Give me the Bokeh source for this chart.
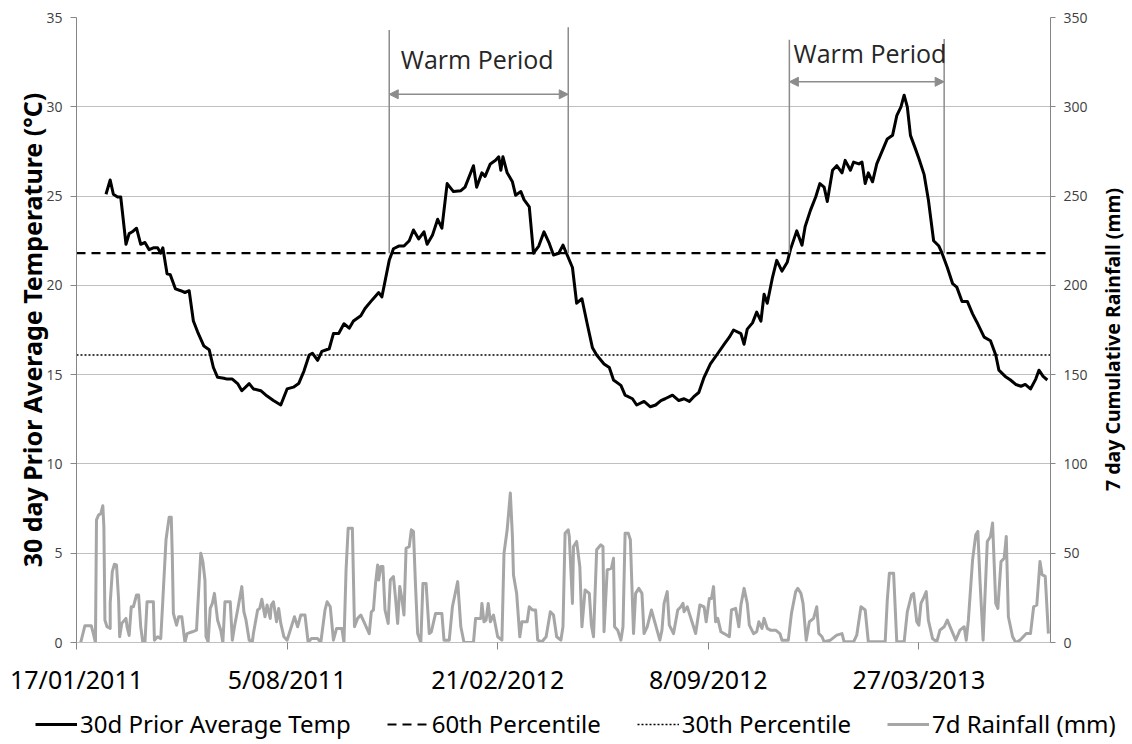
import math
from bokeh.plotting import figure
from bokeh.layouts import row, column
from bokeh.models import (Range1d, LinearAxis, FixedTicker, Arrow, NormalHead,
                          Legend, LegendItem, ColumnDataSource)
from bokeh.core.properties import value
from bokeh.embed import file_html
from bokeh.resources import INLINE

# ---------------- data ----------------
# x values are days since 17/01/2011
tick_days = [0, 200, 400, 600, 800]
tick_labels = ["17/01/2011", "5/08/2011", "21/02/2012", "8/09/2012", "27/03/2013"]
temp_ticks = [0, 5, 10, 15, 20, 25, 30, 35]
rain_ticks = [0, 50, 100, 150, 200, 250, 300, 350]
day_span = [0, 925]

temp_day = [
    28, 32, 35, 39, 42, 47, 50, 53, 57, 61,
    65, 69, 73, 77, 80, 82, 86, 89, 94, 99,
    103, 107, 111, 115, 121, 126, 130, 134, 140, 143,
    148, 153, 157, 164, 168, 175, 181, 187, 194, 200,
    206, 211, 216, 221, 224, 229, 233, 240, 244, 249,
    254, 259, 263, 270, 274, 281, 287, 290, 297, 301,
    306, 311, 316, 320, 325, 330, 333, 338, 343, 347,
    352, 358, 365, 369, 377, 380, 385, 388, 393, 398,
    401, 403, 405, 409, 414, 417, 422, 425, 430, 434,
    439, 444, 449, 453, 458, 462, 466, 471, 475, 480,
    485, 490, 494, 501, 506, 510, 517, 521, 528, 532,
    539, 545, 550, 555, 559, 566, 572, 577, 582, 586,
    591, 596, 602, 608, 615, 620, 624, 631, 634, 637,
    642, 646, 650, 653, 656, 661, 665, 670, 675, 678,
    684, 689, 692, 697, 702, 706, 710, 713, 718, 722,
    727, 730, 735, 738, 743, 746, 749, 752, 756, 760,
    765, 770, 775, 779, 783, 786, 789, 792, 797, 800,
    805, 809, 814, 819, 822, 827, 832, 836, 841, 846,
    851, 855, 862, 868, 873, 876, 882, 887, 892, 897,
    901, 906, 911, 914, 918, 922,
]
temp_c = [
    25.1, 25.9, 25.1, 24.95, 24.95, 22.3, 22.9, 23.0, 23.2, 22.3,
    22.4, 22.0, 22.1, 22.1, 21.8, 22.1, 20.65, 20.6, 19.8, 19.7,
    19.6, 19.7, 18.0, 17.4, 16.6, 16.4, 15.4, 14.85, 14.8, 14.75,
    14.75, 14.5, 14.1, 14.5, 14.2, 14.1, 13.8, 13.55, 13.3, 14.2,
    14.3, 14.5, 15.2, 16.1, 16.2, 15.8, 16.3, 16.45, 17.3, 17.3,
    17.85, 17.6, 18.0, 18.3, 18.7, 19.2, 19.6, 19.35, 21.4, 22.05,
    22.2, 22.2, 22.5, 23.1, 22.6, 23.0, 22.3, 22.8, 23.7, 23.2,
    25.7, 25.25, 25.3, 25.5, 26.7, 25.5, 26.3, 26.1, 26.8, 27.0,
    27.2, 26.45, 27.2, 26.3, 25.8, 25.05, 25.25, 24.8, 24.4, 21.8,
    22.2, 23.0, 22.35, 21.7, 21.8, 22.25, 21.7, 21.0, 19.0, 19.25,
    17.85, 16.5, 16.1, 15.6, 15.4, 14.7, 14.4, 13.85, 13.65, 13.3,
    13.5, 13.2, 13.3, 13.55, 13.65, 13.85, 13.55, 13.65, 13.5, 13.75,
    14.0, 14.85, 15.6, 16.1, 16.7, 17.1, 17.5, 17.3, 16.7, 17.55,
    17.9, 18.5, 18.0, 19.5, 19.0, 20.45, 21.4, 20.8, 21.3, 22.0,
    23.05, 22.25, 23.3, 24.2, 24.95, 25.7, 25.5, 24.7, 26.45, 26.7,
    26.3, 27.0, 26.45, 26.9, 26.8, 26.9, 25.7, 26.3, 25.8, 26.8,
    27.5, 28.2, 28.4, 29.5, 30.0, 30.65, 30.0, 28.4, 27.6, 27.1,
    26.2, 24.8, 22.5, 22.2, 21.8, 21.0, 20.1, 19.9, 19.1, 19.1,
    18.4, 17.95, 17.1, 16.9, 16.1, 15.25, 14.9, 14.7, 14.45, 14.35,
    14.45, 14.2, 14.75, 15.25, 14.9, 14.7,
]

rain_day = [
    4, 8, 10, 14, 16, 18,
    19, 21, 23, 25, 26, 27, 29, 32, 32, 34,
    36, 38, 40, 41, 43, 47, 48, 50, 52, 54,
    57, 59, 61, 63, 65, 67, 73, 74, 77, 80,
    82, 85, 88, 90, 91, 92, 95, 97, 100, 103,
    105, 110, 114, 115, 118, 120, 122, 123, 125, 127,
    129, 131, 134, 137, 139, 141, 146, 148, 150, 153,
    157, 159, 161, 164, 167, 168, 172, 174, 176, 179,
    181, 184, 185, 187, 190, 192, 194, 197, 200, 203,
    207, 210, 213, 217, 220, 223, 229, 232, 236, 238,
    241, 244, 247, 252, 254, 256, 258, 262, 264, 267,
    270, 273, 278, 280, 282, 284, 286, 287, 289, 291,
    293, 296, 298, 301, 303, 305, 307, 309, 311, 313,
    316, 318, 320, 322, 324, 327, 329, 332, 335, 337,
    341, 347, 349, 354, 357, 362, 365, 368, 377, 379,
    384, 385, 387, 389, 391, 393, 396, 400, 404, 406,
    409, 412, 414, 415, 418, 421, 423, 428, 430, 433,
    436, 438, 442, 446, 450, 453, 456, 460,
    462, 464, 467, 468, 471, 472, 475, 478, 480, 483,
    485, 487, 489, 491, 494, 498, 500, 501, 504, 508,
    510, 511, 514, 517, 519, 521, 524, 526, 529, 531,
    534, 537, 539, 542, 546, 550, 554, 556, 558, 561,
    563, 567, 571, 574, 576, 577, 580, 582, 586, 588,
    592, 596, 598, 601, 603, 605, 607, 609, 612, 615,
    620, 622, 626, 629, 631, 634, 637, 639, 643, 646,
    648, 651, 653, 656, 659, 664, 668, 670, 676, 679,
    683, 685, 688, 690, 693, 696, 700, 703, 705, 708,
    710, 716, 722, 727, 729, 738, 741, 745, 749, 752,
    757, 768, 770, 772, 776, 779, 786, 789, 793, 795,
    798, 800, 802, 805, 807, 809, 813, 817, 820, 824,
    827, 831, 835, 839, 843, 845, 847, 851, 854, 856,
    858, 861, 865, 868, 870, 873, 875, 878, 881, 883,
    885, 889, 892, 896, 902, 906, 909, 912, 915, 917, 920, 923,
]
rain_mm = [
    0, 9.4, 9.4, 9.4, 5, 0,
    68.7, 71.5, 72, 76.6, 65, 12.5, 8.8, 7.9, 22, 39.7,
    43.8, 43.4, 23.8, 3.2, 10.7, 13.5, 8.8, 4, 20, 20,
    26.6, 26.6, 8.8, 0, 0, 22.8, 22.8, 1.3, 3.2, 2.2,
    23.8, 57.5, 70.2, 70.2, 48.1, 16.3, 9.7, 14.4, 14.4, 0,
    5, 6, 6.9, 18.2, 50, 45.3, 35, 3.2, 0.4, 19.1,
    21.9, 27.5, 12.5, 6.9, 0, 22.8, 22.8, 1.3, 8.8, 18.2,
    31.3, 17.2, 12.5, 1.3, 0.4, 5, 18.2, 19.1, 24.2, 14.4,
    21, 13.5, 21, 22.8, 11.6, 19.1, 10.7, 3.2, 1.3, 6.9,
    14.4, 8.8, 15.4, 15.4, 0, 2.2, 2.2, 0, 18.2, 22.8,
    20, 1.3, 7.9, 7.9, 0, 40.6, 64, 64, 8.8, 13.5,
    15.4, 11.6, 5, 17.2, 18.2, 33.1, 43.4, 35, 42.5, 42.5,
    18.2, 10.7, 35, 36.9, 24.7, 10.7, 31.3, 24.7, 15.4, 52.8,
    53.7, 63.1, 62.2, 31.3, 5, 0, 33.1, 33.1, 5, 6,
    16.3, 16.3, 1.3, 1.3, 20, 34.1, 8.8, 0, 0, 13.5,
    13.5, 21.9, 11.6, 12.5, 21.9, 11.6, 15.4, 3.2, 1.3, 50,
    63.1, 83.7, 59.4, 37.8, 27.5, 3.2, 11.6, 11.6, 20, 18.2,
    18.2, 1.3, 0.4, 3.2, 17.2, 15.4, 3.2, 1.3,
    8.8, 61.2, 63.1, 59.4, 21.9, 53.7, 56.6, 42.5, 8.8, 29.4,
    28.5, 27.5, 9.7, 3.2, 51.9, 54.7, 53.7, 6, 40.6, 41.6,
    47.2, 8.8, 6.9, 1.3, 8.8, 61.2, 61.2, 57.5, 5, 27.5,
    30.3, 27.5, 5, 8.8, 18.2, 9.7, 1.3, 6.9, 21.9, 28.5,
    9.7, 5, 18.2, 20, 21.9, 17.2, 20, 16.3, 8.8, 5,
    21, 20, 11.6, 24.7, 24.7, 31.3, 11.6, 13.5, 6, 5,
    3.2, 18.2, 19.1, 8.8, 21, 30.3, 21.9, 9.7, 5, 6,
    11.6, 7.9, 13.5, 7.9, 6.9, 6.9, 5, 1.3, 1.3, 16.3,
    28.5, 30.3, 27.5, 21.9, 1.3, 11.6, 13.5, 20, 5, 3.2,
    0.4, 1.3, 4.1, 5, 0.4, 0.4, 4.1, 20, 18.2, 0.4,
    0.4, 0.4, 23.8, 38.8, 38.8, 0.4, 0.4, 17.2, 26.6, 27.5,
    11.6, 9.7, 21.9, 25.7, 28.5, 12.5, 2.2, 0.4, 6.9, 8.8,
    12.5, 6.9, 1.3, 6.9, 8.8, 1.3, 12.5, 46.3, 60.3, 62.2,
    35, 1.3, 56.6, 59.4, 66.9, 21.9, 19.1, 45.3, 47.2, 59.4,
    14.4, 3.2, 0, 1.3, 5, 5, 20, 21, 45.3, 38, 37, 5,
]

pct60 = 21.8
pct30 = 16.1

warm_line_day = [297, 467, 677, 824]
warm_line_top = [34.3, 34.45, 33.75, 33.8]
warm_start = [297, 677]
warm_end = [467, 824]
warm_arrow_y = [30.7, 31.4]
warm_label_day = [308, 681]
warm_label_y = [32.7, 33.0]
warm_text = ["Warm Period", "Warm Period"]

left_title = "30 day Prior Average Temperature (°C)"
right_title = "7 day Cumulative Rainfall (mm)"
legend_labels = ["30d Prior Average Temp", "60th Percentile", "30th Percentile", "7d Rainfall (mm)"]

# ---------------- styles ----------------
GRID = "#C0C0C0"
AXIS = "#868686"
ANNOT = "#8C8C8C"
RAIN = "#A6A6A6"
PH = 700          # height of main chart block
LH = 42           # height of legend strip
TW = 33           # width of right title strip

STY_TEMP = dict(line_color="black", line_width=3, line_join="round")
STY_P60 = dict(line_color="black", line_width=2.2, line_dash="9 6")
STY_P30 = dict(line_color="black", line_width=1.5, line_dash="2 2")
STY_RAIN = dict(line_color=RAIN, line_width=3, line_join="round")

# ---------------- main chart ----------------
p = figure(frame_width=974, frame_height=625,
           x_range=Range1d(day_span[0], day_span[1]), y_range=Range1d(0, 35),
           min_border_left=76, min_border_right=45, min_border_top=17,
           min_border_bottom=PH - 17 - 625,
           output_backend="svg", toolbar_location=None)
p.extra_y_ranges = {"rain": Range1d(0, 350)}
p.outline_line_color = None
p.xgrid.visible = False
p.ygrid.ticker = FixedTicker(ticks=temp_ticks)
p.ygrid.grid_line_color = GRID
p.ygrid.grid_line_width = 1

xa = p.xaxis[0]
xa.ticker = FixedTicker(ticks=tick_days)
xa.major_label_overrides = {d: l for d, l in zip(tick_days, tick_labels)}
xa.axis_line_color = GRID
xa.major_tick_line_color = AXIS
xa.major_tick_out = 7
xa.major_tick_in = 0
xa.minor_tick_line_color = None
xa.major_label_text_font = "Noto Sans"
xa.major_label_text_font_size = "25px"
xa.major_label_text_color = "black"
xa.major_label_standoff = 12

ya = p.yaxis[0]
ya.ticker = FixedTicker(ticks=temp_ticks)
ya.axis_line_color = AXIS
ya.major_tick_line_color = AXIS
ya.major_tick_out = 6
ya.major_tick_in = 0
ya.minor_tick_line_color = None
ya.major_label_text_font = "Open Sans"
ya.major_label_text_font_size = "14px"
ya.major_label_text_color = "#404040"
ya.major_label_standoff = 8
ya.axis_label = left_title
ya.axis_label_text_font = "Noto Sans"
ya.axis_label_text_font_style = "bold"
ya.axis_label_text_font_size = "25px"
ya.axis_label_text_color = "black"
ya.axis_label_standoff = -6

ra = LinearAxis(y_range_name="rain", ticker=FixedTicker(ticks=rain_ticks))
ra.axis_line_color = AXIS
ra.major_tick_line_color = AXIS
ra.major_tick_out = 5
ra.major_tick_in = 0
ra.minor_tick_line_color = None
ra.major_label_text_font = "Open Sans"
ra.major_label_text_font_size = "14px"
ra.major_label_text_color = "#404040"
ra.major_label_standoff = 8
p.add_layout(ra, "right")

# series
p.line(rain_day, rain_mm, y_range_name="rain", **STY_RAIN)
p.line(day_span, [pct60, pct60], **STY_P60)
p.line(day_span, [pct30, pct30], **STY_P30)
p.line(temp_day, temp_c, **STY_TEMP)

# warm period annotations
p.segment(x0=warm_line_day, y0=[pct60] * len(warm_line_day),
          x1=warm_line_day, y1=warm_line_top, line_color=ANNOT, line_width=1.5)
arrow_src = ColumnDataSource(dict(x_start=warm_start, x_end=warm_end,
                                  y_start=warm_arrow_y, y_end=warm_arrow_y))
p.add_layout(Arrow(source=arrow_src, line_color=ANNOT, line_width=1.5,
                   start=NormalHead(size=9, fill_color=ANNOT, line_color=ANNOT),
                   end=NormalHead(size=9, fill_color=ANNOT, line_color=ANNOT)))
p.text(x=warm_label_day, y=warm_label_y, text=warm_text,
       text_font=value("Open Sans"), text_font_size="25px", text_color="#262626",
       text_baseline="middle", text_align="left")

# ---------------- right title strip (reads bottom-to-top) ----------------
pt = figure(frame_width=TW, frame_height=PH,
            x_range=Range1d(0, TW), y_range=Range1d(0, PH),
            min_border_left=0, min_border_right=0, min_border_top=0, min_border_bottom=0,
            x_axis_location=None, y_axis_location=None,
            output_backend="svg", toolbar_location=None)
pt.outline_line_color = None
pt.grid.visible = False
pt.text(x=[17], y=[PH - 322], text=[right_title], angle=math.pi / 2,
        text_align="center", text_baseline="middle",
        text_font=value("Noto Sans"), text_font_style="bold",
        text_font_size="19.5px", text_color="black")

# ---------------- legend strip ----------------
# the strip's view (0..1) lies outside the data, so its renderers only supply legend swatches
LW = 1095 + TW
pl = figure(frame_width=LW, frame_height=LH,
            x_range=Range1d(0, 1), y_range=Range1d(0, 1),
            min_border_left=0, min_border_right=0, min_border_top=0, min_border_bottom=0,
            x_axis_location=None, y_axis_location=None,
            output_backend="svg", toolbar_location=None)
pl.outline_line_color = None
pl.grid.visible = False
sw_temp = pl.line(temp_day, temp_c, **STY_TEMP)
sw_p60 = pl.line(day_span, [pct60, pct60], **STY_P60)
sw_p30 = pl.line(day_span, [pct30, pct30], **STY_P30)
sw_rain = pl.line(rain_day, rain_mm, **STY_RAIN)
legend = Legend(items=[LegendItem(label=lab, renderers=[r]) for lab, r in
                       zip(legend_labels, [sw_temp, sw_p60, sw_p30, sw_rain])],
                orientation="horizontal", location=(35, 2))
legend.border_line_color = None
legend.background_fill_alpha = 0
legend.padding = 0
legend.margin = 0
legend.spacing = 36
legend.glyph_width = 42
legend.glyph_height = 20
legend.label_standoff = 3
legend.label_text_font = "Noto Sans"
legend.label_text_font_size = "24px"
legend.label_text_color = "black"
pl.add_layout(legend, "center")

layout = column(row(p, pt, spacing=0), pl, spacing=0)
open("out.html", "w").write(file_html(layout, INLINE))
